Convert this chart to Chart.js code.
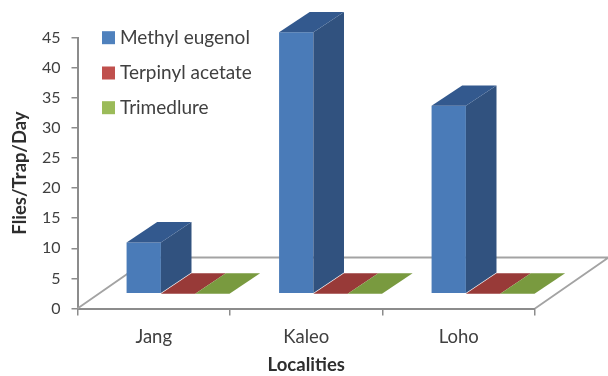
<!DOCTYPE html>
<html>
<head>
<meta charset="utf-8">
<script src="https://cdn.jsdelivr.net/npm/chart.js@4"></script>
<style>
  html, body { margin: 0; padding: 0; background: #fff; }
  canvas { display: block; filter: blur(0.4px); }
</style>
</head>
<body>
<canvas id="fliesChart" width="608" height="376"></canvas>
<script>
const localities = ['Jang', 'Kaleo', 'Loho'];
const methylEugenol = [8.5, 43.4, 31.2];
const terpinylAcetate = [0, 0, 0];
const trimedlure = [0, 0, 0];
const yTicks = [0, 5, 10, 15, 20, 25, 30, 35, 40, 45];

const AXIS_GREY = '#8c8c8c';
const TEXT_GREY = '#404040';
const FONT = 'Lato, "Open Sans", sans-serif';

// 3D look: bars sit part way back on the floor
const barShift = { x: 24.3, y: -14.8 };
const barDepth = { x: 30.6, y: -20.4 };
const floorDepth = { x: 73.5, y: -51 };

function seriesColors(front, side, top, legend) {
    return { backgroundColor: front, sideColor: side, topColor: top, legendColor: legend, borderWidth: 0 };
}

// floor of the box, drawn under the bars
function drawFloor(ctx, area) {
    ctx.save();
    ctx.strokeStyle = '#a3a3a3';
    ctx.lineWidth = 1.8;
    ctx.beginPath();
    ctx.moveTo(area.left, area.bottom);
    ctx.lineTo(area.left + floorDepth.x, area.bottom + floorDepth.y);
    ctx.lineTo(area.right + floorDepth.x, area.bottom + floorDepth.y);
    ctx.lineTo(area.right, area.bottom);
    ctx.stroke();
    ctx.restore();
}

function drawFace(ctx, color, pts) {
    ctx.fillStyle = color;
    ctx.beginPath();
    pts.forEach((p, i) => i ? ctx.lineTo(p[0], p[1]) : ctx.moveTo(p[0], p[1]));
    ctx.closePath();
    ctx.fill();
}

const bars3d = {
    id: 'bars3d',
    beforeDatasetsDraw(chart) {
        const ctx = chart.ctx;
        drawFloor(ctx, chart.chartArea);
        ctx.save();
        ctx.translate(barShift.x, barShift.y);
    },
    afterDatasetsDraw(chart) {
        const ctx = chart.ctx;
        chart.data.datasets.forEach((ds, i) => {
            chart.getDatasetMeta(i).data.forEach(bar => {
                const l = bar.x - bar.width / 2;
                const r = bar.x + bar.width / 2;
                const d = barDepth;
                drawFace(ctx, ds.sideColor, [[r, bar.y], [r + d.x, bar.y + d.y], [r + d.x, bar.base + d.y], [r, bar.base]]);
                drawFace(ctx, ds.topColor, [[l, bar.y], [l + d.x, bar.y + d.y], [r + d.x, bar.y + d.y], [r, bar.y]]);
            });
        });
        ctx.restore();
    },
    afterDraw(chart) {
        // legend sits inside the plot, top left
        const ctx = chart.ctx;
        const rows = [37.7, 73, 107.7];
        ctx.save();
        ctx.font = '19px ' + FONT;
        ctx.textBaseline = 'middle';
        chart.data.datasets.forEach((ds, i) => {
            ctx.fillStyle = ds.legendColor;
            ctx.fillRect(102, rows[i] - 6.5, 13, 13);
            ctx.fillStyle = TEXT_GREY;
            ctx.fillText(ds.label, 120, rows[i]);
        });
        ctx.restore();
    }
};

new Chart(document.getElementById('fliesChart').getContext('2d'), {
    type: 'bar',
    data: {
        labels: localities,
        datasets: [
            { label: 'Methyl eugenol', data: methylEugenol, ...seriesColors('#4a7bb8', '#31527f', '#33598e', '#4f81bd') },
            { label: 'Terpinyl acetate', data: terpinylAcetate, ...seriesColors('#c0504d', '#953735', '#983a38', '#c0504d') },
            { label: 'Trimedlure', data: trimedlure, ...seriesColors('#9bbb59', '#76923c', '#799a3f', '#9bbb59') }
        ]
    },
    plugins: [bars3d],
    options: {
        responsive: false,
        animation: false,
        clip: false,
        barPercentage: 1,
        categoryPercentage: 0.675,
        layout: { padding: { top: 37.5, right: 73, bottom: 0, left: 0 } },
        plugins: { legend: { display: false }, tooltip: { enabled: false } },
        scales: {
            x: {
                grid: { drawOnChartArea: false, color: AXIS_GREY, tickLength: 7, lineWidth: 1.5 },
                border: { color: AXIS_GREY, width: 2 },
                ticks: { color: TEXT_GREY, font: { family: FONT, size: 18.5 }, padding: 10, maxRotation: 0 },
                title: { display: true, text: 'Localities', color: '#2e2e2e', font: { family: FONT, size: 18.5, weight: 'bold' }, padding: { top: 6, bottom: 0 } },
                afterFit(scale) { scale.height = 67.5; }
            },
            y: {
                min: 0,
                max: 45,
                afterBuildTicks(scale) { scale.ticks = yTicks.map(value => ({ value })); },
                grid: { drawOnChartArea: false, color: AXIS_GREY, tickLength: 6, lineWidth: 1.5 },
                border: { color: AXIS_GREY, width: 2 },
                ticks: { color: TEXT_GREY, font: { family: FONT, size: 16 }, padding: 11 },
                title: { display: true, text: 'Flies/Trap/Day', color: '#2e2e2e', font: { family: FONT, size: 18.5, weight: 'bold' }, padding: { top: 9 } },
                afterFit(scale) { scale.width = 77.5; }
            }
        }
    }
});
</script>
</body>
</html>
